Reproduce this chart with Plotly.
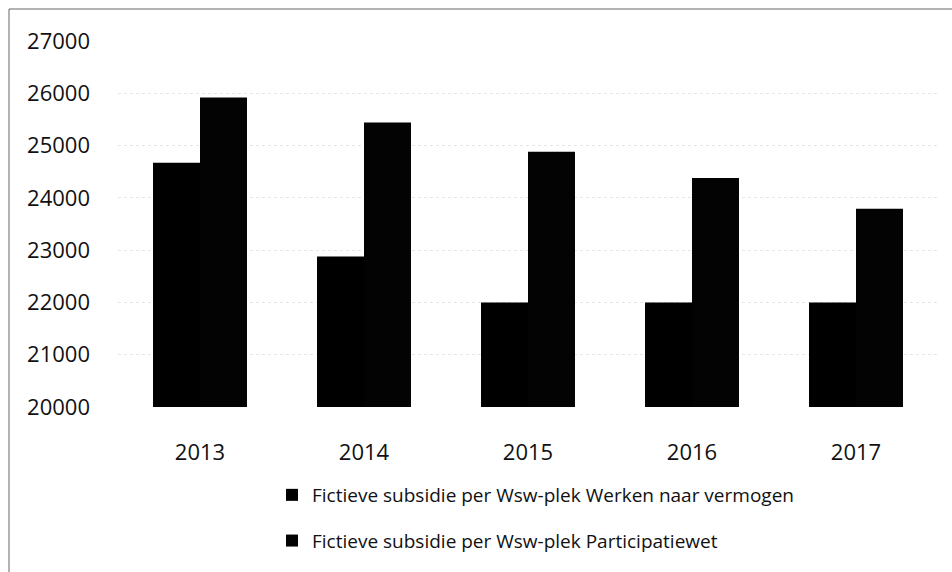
import plotly.graph_objects as go

years = ["2013", "2014", "2015", "2016", "2017"]
werken_naar_vermogen = [24670, 22880, 22000, 22000, 22000]
participatiewet = [25920, 25440, 24880, 24380, 23790]
series_names = [
    "Fictieve subsidie per Wsw-plek Werken naar vermogen",
    "Fictieve subsidie per Wsw-plek Participatiewet",
]
y_ticks = [20000, 21000, 22000, 23000, 24000, 25000, 26000, 27000]
y_tick_labels = [str(v) for v in y_ticks]

FONT = "Open Sans, Noto Sans, sans-serif"

fig = go.Figure()
fig.add_trace(go.Bar(x=years, y=werken_naar_vermogen, name=series_names[0],
                     marker=dict(color="#000000", line=dict(width=0)),
                     legendgroup="a"))
fig.add_trace(go.Bar(x=years, y=participatiewet, name=series_names[1],
                     marker=dict(color="#030303", line=dict(width=0)),
                     legendgroup="b"))

W, H = 952, 572
ml, mr, mt, mb = 118, 14, 41, 165
pw, ph = W - ml - mr, H - mt - mb

def px2x(p):
    return (p - ml) / pw

def px2y(p):
    return (H - mb - p) / ph

fig.update_layout(
    width=W, height=H,
    margin=dict(l=ml, r=mr, t=mt, b=mb, autoexpand=False),
    paper_bgcolor="white", plot_bgcolor="white",
    barmode="group", bargap=0.427, bargroupgap=0,
    font=dict(family=FONT, color="#111111"),
    xaxis=dict(showgrid=False, showline=False, ticks="",
               tickfont=dict(size=22, family=FONT, color="#111111"),
               ticklabelstandoff=30),
    yaxis=dict(range=[20000, 27000], tickvals=y_ticks, ticktext=y_tick_labels,
               tickfont=dict(size=22, family=FONT, color="#111111"),
               showgrid=True, gridcolor="#e6e6e6", griddash="dot", gridwidth=1,
               zeroline=False, showline=False, ticks="",
               ticklabelstandoff=27),
    showlegend=True,
    legend=dict(orientation="v", x=px2x(272), xanchor="left",
                y=px2y(476), yanchor="top",
                font=dict(size=19, family=FONT, color="#111111"),
                tracegroupgap=18, itemwidth=30,
                bgcolor="rgba(0,0,0,0)"),
)

fig.add_shape(type="rect", xref="paper", yref="paper",
              x0=px2x(9), x1=px2x(965), y0=px2y(590), y1=px2y(9),
              line=dict(color="#666666", width=1), fillcolor="rgba(0,0,0,0)",
              layer="below")

fig.write_html("out.html",
               config={"displayModeBar": False},
               post_script="document.body.style.margin='0';document.body.style.padding='0';")
